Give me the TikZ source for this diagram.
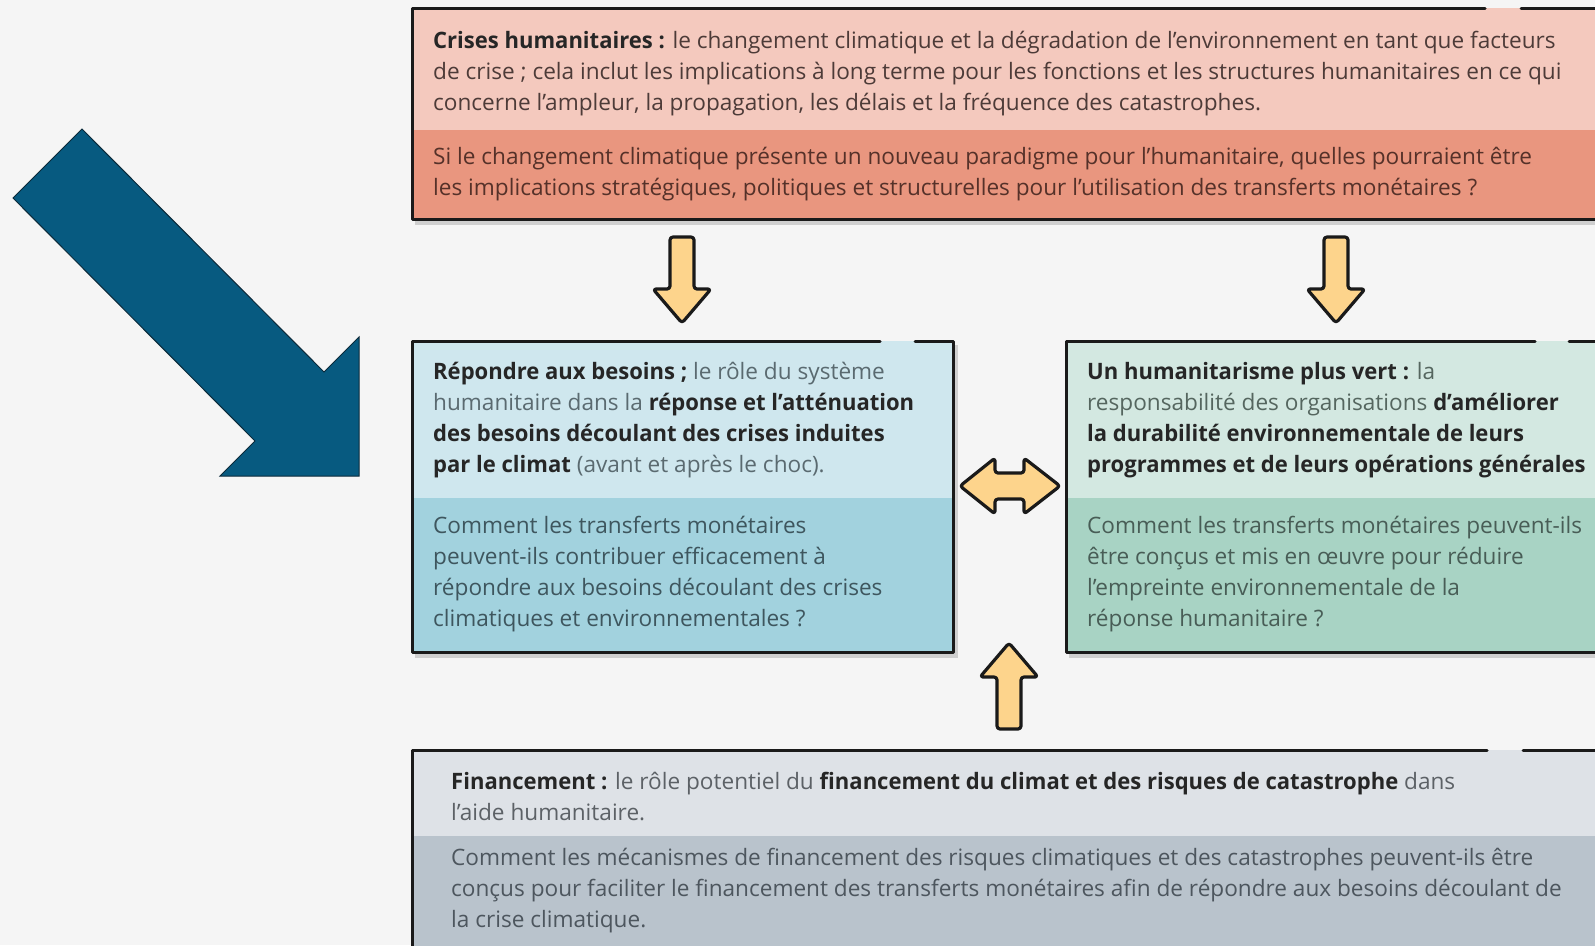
\documentclass[tikz,border=0pt]{standalone}
\usepackage{fontspec}
\setmainfont{Open Sans}[BoldFeatures={FakeStretch=0.975}]
\definecolor{bgc}{HTML}{F5F5F5}
\definecolor{topA}{HTML}{F4C9BE}
\definecolor{topB}{HTML}{E9967F}
\definecolor{leftA}{HTML}{CFE7EE}
\definecolor{leftB}{HTML}{A2D2DE}
\definecolor{rightA}{HTML}{D3E8E1}
\definecolor{rightB}{HTML}{A8D3C4}
\definecolor{botA}{HTML}{DEE2E7}
\definecolor{botB}{HTML}{B9C3CC}
\definecolor{bordc}{HTML}{1A1A1A}
\definecolor{shadc}{HTML}{CFCFCF}
\definecolor{yfill}{HTML}{FDD48C}
\definecolor{bluea}{HTML}{075A80}
\definecolor{bluel}{HTML}{0B2A3A}
\definecolor{boldc}{HTML}{262626}
\definecolor{tTopA}{HTML}{4D3B38}
\definecolor{tTopB}{HTML}{553129}
\definecolor{tLeftA}{HTML}{5A6A70}
\definecolor{tLeftB}{HTML}{3E565E}
\definecolor{tRightA}{HTML}{55665F}
\definecolor{tRightB}{HTML}{485D56}
\definecolor{tBotA}{HTML}{5C6166}
\definecolor{tBotB}{HTML}{4D565E}
\newcommand\fs{\fontsize{22.6}{31}\selectfont}
\newcommand\bb[1]{\textbf{\color{boldc}#1}}
\tikzset{
  txt/.style={font=\fs, inner sep=0pt, anchor=base west},
  boxborder/.style={draw=bordc, line width=3pt, line join=round, line cap=round},
  boxshadow/.style={draw=shadc, line width=4pt},
  yarrow/.style={fill=yfill, draw=bordc, line width=3.2pt, line join=round, rounded corners=3pt},
  pics/downarrow/.style={code={
    \path[yarrow] (-12,0) -- (12,0) -- (12,52) -- (29,52) -- (0,86) -- (-29,52) -- (-12,52) -- cycle;
  }},
  pics/dblarrow/.style={code={
    \path[yarrow] (-50,0) -- (-15,-28) -- (-15,-13) -- (14,-13) -- (14,-28) -- (50,0) -- (14,28) -- (14,13) -- (-15,13) -- (-15,28) -- cycle;
  }}
}
\begin{document}
\begin{tikzpicture}[x=1pt,y=-1pt]
\useasboundingbox (0,0) rectangle (1595,945);
\clip (0,0) rectangle (1595,945);
\fill[bgc] (0,0) rectangle (1595,945);

% big blue arrow
\filldraw[fill=bluea, draw=bluel, line width=1pt, line join=miter]
  (82,129) -- (13,198) -- (255,441) -- (220,476) -- (359,476) -- (359,337) -- (324,372) -- cycle;

% ---------- top box ----------
\draw[boxshadow] (415,223) -- (1700,223);
\fill[topA] (412,8) rectangle (1700,130);
\fill[topB] (412,130) rectangle (1700,219);
\draw[boxborder] (1521,8) -- (1700,8);
\draw[boxborder] (1485,8) -- (412,8) -- (412,219) -- (1700,219);

\node[txt, text=tTopA] (t1) at (433,48) {\bb{Crises humanitaires :} le changement climatique et la dégradation de l'environnement en tant que facteurs};
\node[txt, text=tTopA] (t2) at (433,79) {de crise ; cela inclut les implications à long terme pour les fonctions et les structures humanitaires en ce qui};
\node[txt, text=tTopA] (t3) at (433,110) {concerne l'ampleur, la propagation, les délais et la fréquence des catastrophes.};
\node[txt, text=tTopB] (t4) at (433,164) {Si le changement climatique présente un nouveau paradigme pour l'humanitaire, quelles pourraient être};
\node[txt, text=tTopB] (t5) at (433,195) {les implications stratégiques, politiques et structurelles pour l'utilisation des transferts monétaires ?};

% ---------- middle left box ----------
\draw[boxshadow] (415,656) -- (956,656) -- (956,345);
\fill[leftA] (412,341) rectangle (953,498);
\fill[leftB] (412,498) rectangle (953,652);
\draw[boxborder] (915,341) -- (953,341) -- (953,652) -- (412,652) -- (412,341) -- (880,341);

\node[txt, text=tLeftA] (l1) at (433,379) {\bb{Répondre aux besoins ;} le rôle du système};
\node[txt, text=tLeftA] (l2) at (433,410) {humanitaire dans la \bb{réponse et l'atténuation}};
\node[txt, text=tLeftA] (l3) at (433,441) {\bb{des besoins découlant des crises induites}};
\node[txt, text=tLeftA] (l4) at (433,472) {\bb{par le climat} (avant et après le choc).};
\node[txt, text=tLeftB] (l5) at (433,533) {Comment les transferts monétaires};
\node[txt, text=tLeftB] (l6) at (433,564) {peuvent-ils contribuer efficacement à};
\node[txt, text=tLeftB] (l7) at (433,595) {répondre aux besoins découlant des crises};
\node[txt, text=tLeftB] (l8) at (433,626) {climatiques et environnementales ?};

% ---------- middle right box ----------
\draw[boxshadow] (1069,656) -- (1700,656);
\fill[rightA] (1066,341) rectangle (1700,498);
\fill[rightB] (1066,498) rectangle (1700,652);
\draw[boxborder] (1569,341) -- (1700,341);
\draw[boxborder] (1535,341) -- (1066,341) -- (1066,652) -- (1700,652);

\node[txt, text=tRightA] (r1) at (1087,379) {\bb{Un humanitarisme plus vert :} la};
\node[txt, text=tRightA] (r2) at (1087,410) {responsabilité des organisations \bb{d'améliorer}};
\node[txt, text=tRightA] (r3) at (1087,441) {\bb{la durabilité environnementale de leurs}};
\node[txt, text=tRightA] (r4) at (1087,472) {\bb{programmes et de leurs opérations générales}};
\node[txt, text=tRightB] (r5) at (1087,533) {Comment les transferts monétaires peuvent-ils};
\node[txt, text=tRightB] (r6) at (1087,564) {être conçus et mis en œuvre pour réduire};
\node[txt, text=tRightB] (r7) at (1087,595) {l'empreinte environnementale de la};
\node[txt, text=tRightB] (r8) at (1087,626) {réponse humanitaire ?};

% ---------- bottom box ----------
\fill[botA] (412,750) rectangle (1700,836);
\fill[botB] (412,836) rectangle (1700,1000);
\draw[boxborder] (1523,750) -- (1700,750);
\draw[boxborder] (1487,750) -- (412,750) -- (412,1000);

\node[txt, text=tBotA] (b1) at (451,789) {\bb{Financement :} le rôle potentiel du \bb{financement du climat et des risques de catastrophe} dans};
\node[txt, text=tBotA] (b2) at (451,820) {l'aide humanitaire.};
\node[txt, text=tBotB] (b3) at (451,865) {Comment les mécanismes de financement des risques climatiques et des catastrophes peuvent-ils être};
\node[txt, text=tBotB] (b4) at (451,896) {conçus pour faciliter le financement des transferts monétaires afin de répondre aux besoins découlant de};
\node[txt, text=tBotB] (b5) at (451,927) {la crise climatique.};

% ---------- yellow block arrows ----------
\coordinate (aL) at (682,237);
\coordinate (aR) at (1336,237);
\coordinate (aM) at (1010,486);
\coordinate (aU) at (1009,729);
\pic at (aL) {downarrow};
\pic at (aR) {downarrow};
\pic at (aM) {dblarrow};
\pic[rotate=180] at (aU) {downarrow};
\end{tikzpicture}
\end{document}
